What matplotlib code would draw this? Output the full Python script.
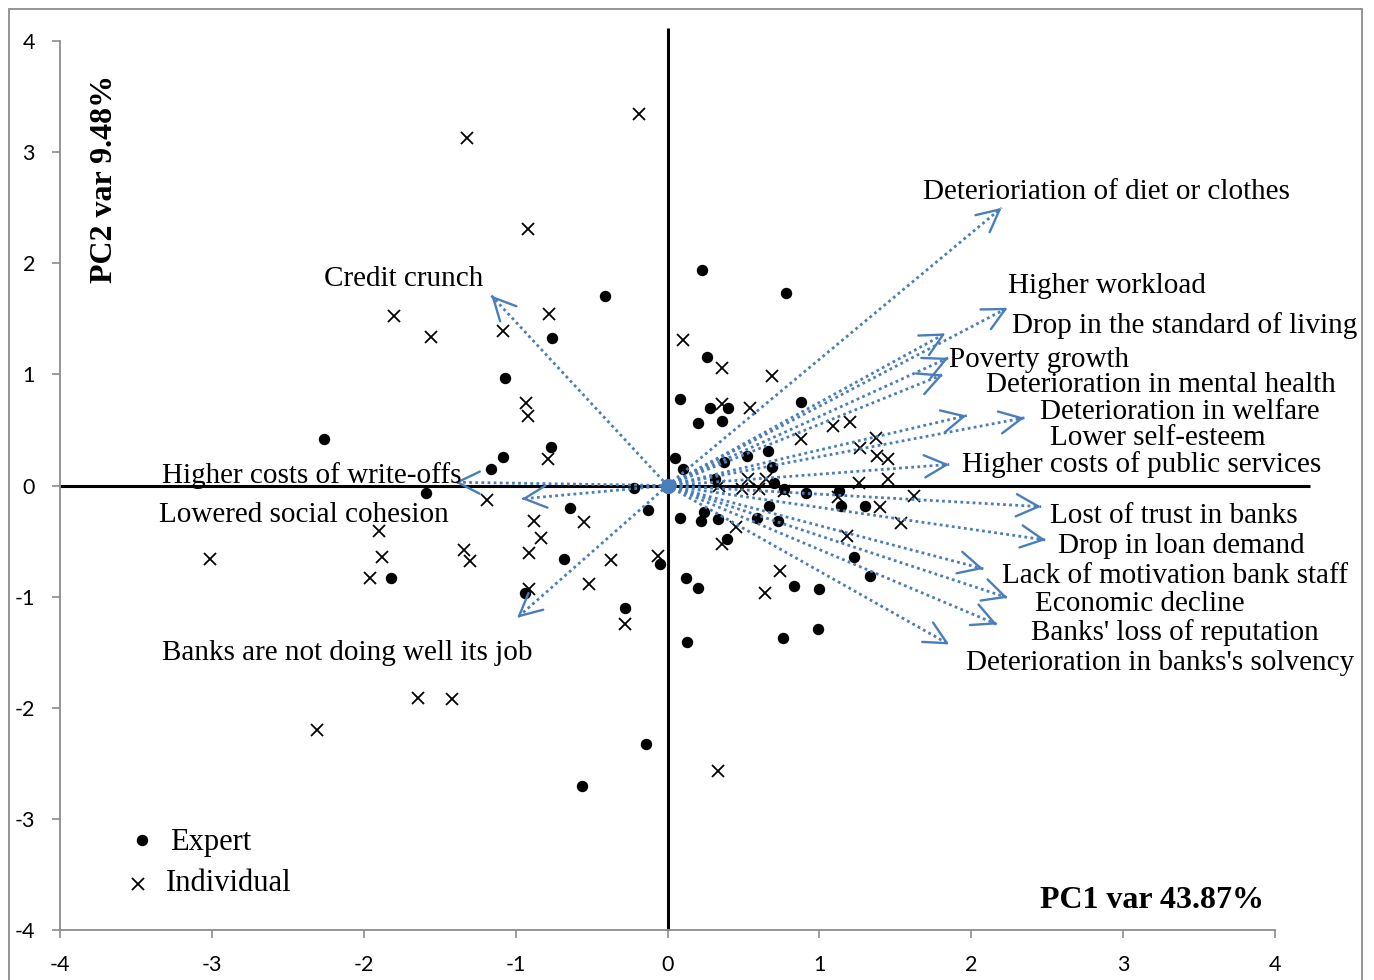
import matplotlib
matplotlib.use("Agg")
import matplotlib.pyplot as plt
from matplotlib.patches import Rectangle

# ---------------- data ----------------
expert_x = [-0.41, -0.76, -1.07, -2.26, -0.77, -1.08, -1.16, -1.59, -0.22, -0.64,
            -0.13, -0.68, -1.82, -0.94, -0.28, -0.05, -0.14, -0.56, 0.23, 0.78,
            0.26, 0.08, 0.28, 0.40, 0.36, 0.20, 0.88, 0.05, 0.10, 0.52,
            0.66, 0.37, 0.31, 0.69, 0.70, 0.77, 0.91, 1.13, 1.14, 1.30,
            0.67, 0.24, 0.22, 0.08, 0.33, 0.59, 0.73, 0.39, 1.23, 1.33,
            0.12, 0.20, 0.83, 1.00, 0.13, 0.76, 0.99]
expert_y = [1.71, 1.33, 0.97, 0.42, 0.35, 0.26, 0.15, -0.07, -0.02, -0.20,
            -0.22, -0.66, -0.83, -0.97, -1.10, -0.71, -2.33, -2.70, 1.94, 1.73,
            1.16, 0.78, 0.70, 0.70, 0.58, 0.56, 0.75, 0.25, 0.15, 0.27,
            0.31, 0.21, 0.06, 0.17, 0.02, -0.03, -0.07, -0.05, -0.18, -0.18,
            -0.18, -0.24, -0.32, -0.29, -0.30, -0.29, -0.32, -0.48, -0.64, -0.81,
            -0.83, -0.92, -0.90, -0.93, -1.41, -1.37, -1.29]

indiv_x = [-1.32, -0.92, -0.19, -1.80, -1.56, -1.08, -0.78, -0.93, -0.92, -0.79,
           -1.19, -0.88, -0.55, -1.90, -0.83, -3.01, -1.88, -1.34, -1.30, -0.91,
           -0.37, -0.06, -1.96, -0.91, -0.52, -0.28, -1.64, -1.42, -2.31, 0.33,
           0.10, 0.36, 0.69, 0.36, 0.54, 1.09, 1.20, 0.88, 1.37, 1.27,
           1.38, 1.45, 1.45, 1.26, 0.53, 0.65, 0.34, 0.49, 0.60, 0.77,
           1.12, 1.62, 1.40, 1.54, 1.18, 0.45, 0.36, 0.74, 0.64]
indiv_y = [3.13, 2.31, 3.34, 1.53, 1.34, 1.39, 1.54, 0.74, 0.63, 0.24,
           -0.13, -0.32, -0.33, -0.41, -0.47, -0.66, -0.64, -0.58, -0.68, -0.61,
           -0.67, -0.63, -0.83, -0.93, -0.89, -1.25, -1.91, -1.92, -2.20, -2.57,
           1.31, 1.06, 0.99, 0.73, 0.70, 0.54, 0.57, 0.42, 0.43, 0.34,
           0.27, 0.24, 0.06, 0.02, 0.06, 0.06, 0.00, -0.03, -0.03, -0.05,
           -0.10, -0.09, -0.19, -0.34, -0.45, -0.37, -0.53, -0.77, -0.97]

variables = ["Deterioriation of diet or clothes", "Higher workload",
             "Drop in the standard of living", "Poverty growth",
             "Deterioration in mental health", "Deterioration in welfare",
             "Lower self-esteem", "Higher costs of public services",
             "Lost of trust in banks", "Drop in loan demand",
             "Lack of motivation bank staff", "Economic decline",
             "Banks' loss of reputation", "Deterioration in banks's solvency",
             "Credit crunch", "Higher costs of write-offs",
             "Lowered social cohesion", "Banks are not doing well its job"]
loading_x = [2.20, 2.24, 1.83, 1.85, 1.815, 2.35, 1.97, 1.855,
             2.46, 2.49, 2.08, 2.24, 2.17, 1.855,
             -1.16, -1.40, -0.96, -0.99]
loading_y = [2.50, 1.60, 1.37, 1.15, 1.00, 0.61, 0.63, 0.19,
             -0.19, -0.49, -0.75, -1.01, -1.25, -1.43,
             1.71, 0.03, -0.12, -1.19]

x_ticks = [-4, -3, -2, -1, 0, 1, 2, 3, 4]
y_ticks = [-4, -3, -2, -1, 0, 1, 2, 3, 4]
group_names = ["Expert", "Individual"]

# label layout (baseline-left anchor, data coords)
label_pos = [(1.68, 2.58), (2.24, 1.73), (2.27, 1.375), (1.85, 1.07),
             (2.10, 0.84), (2.45, 0.60), (2.52, 0.365), (1.94, 0.125),
             (2.52, -0.34), (2.57, -0.605), (2.20, -0.875), (2.42, -1.127),
             (2.39, -1.39), (1.965, -1.66),
             (-2.26, 1.80), (-3.33, 0.02), (-3.35, -0.33), (-3.33, -1.57)]

# ---------------- figure ----------------
BLUE = "#4A7EBB"
GRAY = "#8C8C8C"
SERIF = "Liberation Serif"

fig = plt.figure(figsize=(13.74, 9.80), dpi=100)
fig.patches.append(Rectangle((9 / 1374, -0.05), (1362 - 9) / 1374, 1.05 - 9 / 980,
                             transform=fig.transFigure, fill=False,
                             edgecolor=GRAY, linewidth=1.3, zorder=0))

ax = fig.add_axes([60 / 1374, 50 / 980, (1351 - 60) / 1374, (930 - 18.9) / 980])
ax.set_xlim(-4, 4.5)
ax.set_ylim(-4, 4.2)

for s in ["top", "right"]:
    ax.spines[s].set_visible(False)
for s in ["left", "bottom"]:
    ax.spines[s].set_color(GRAY)
    ax.spines[s].set_linewidth(1.3)
ax.spines["left"].set_bounds(-4, 4)
ax.spines["bottom"].set_bounds(-4, 4)

ax.set_xticks(x_ticks)
ax.set_yticks(y_ticks)
ax.set_xticklabels([str(t) for t in x_ticks])
ax.set_yticklabels([str(t) for t in y_ticks])
ax.tick_params(direction="out", length=6, width=1.2, color=GRAY,
               labelsize=15.5, pad=12)
for lab in ax.get_xticklabels() + ax.get_yticklabels():
    lab.set_fontfamily("Lato")

# zero lines
ax.plot([-4, 4.23], [0, 0], color="black", linewidth=2.2, zorder=1,
        solid_capstyle="butt", clip_on=False)
ax.plot([0, 0], [-4, 4.12], color="black", linewidth=2.2, zorder=1,
        solid_capstyle="butt", clip_on=False)

# points
DOT = dict(linestyle="none", marker="o", markersize=7.2, color="black")
CROSS = dict(linestyle="none", marker="x", markersize=9, markeredgewidth=1.3,
             color="black")
ax.plot(expert_x, expert_y, zorder=2, **DOT)
ax.plot(indiv_x, indiv_y, zorder=2, **CROSS)

# loading arrows
for vx, vy, name, (lx, ly) in zip(loading_x, loading_y, variables, label_pos):
    ax.plot([0, vx], [0, vy], linestyle=(0, (1, 1.2)), color=BLUE,
            linewidth=2.0, zorder=3, clip_on=False)
    ax.annotate("", xy=(vx, vy), xytext=(vx * 0.985, vy * 0.985),
                arrowprops=dict(arrowstyle="->,head_length=0.8,head_width=0.4",
                                color=BLUE, linewidth=1.7, shrinkA=0, shrinkB=0,
                                mutation_scale=20),
                zorder=3, annotation_clip=False)
    ax.text(lx, ly, name, family=SERIF, fontsize=21, ha="left",
            va="baseline", color="black", zorder=4)

ax.plot([0], [0], marker="o", markersize=10, color=BLUE, zorder=4)

# axis titles
ax.text(-3.705, 2.76, "PC2 var 9.48%", family=SERIF, fontweight="bold",
        fontsize=23, rotation=90, ha="center", va="center")
ax.text(3.93, -3.8, "PC1 var 43.87%", family=SERIF, fontweight="bold",
        fontsize=23, ha="right", va="baseline")

# legend (drawn manually to match the original placement)
ax.plot([0.0635], [0.0985], transform=ax.transAxes, clip_on=False, **DOT)
ax.plot([0.0604], [0.0505], transform=ax.transAxes, clip_on=False, **CROSS)
ax.text(0.0852, 0.0955, group_names[0], transform=ax.transAxes, family=SERIF,
        fontsize=22, ha="left", va="center")
ax.text(0.0821, 0.0505, group_names[1], transform=ax.transAxes, family=SERIF,
        fontsize=22, ha="left", va="center")

fig.savefig("out.png", dpi=100)
